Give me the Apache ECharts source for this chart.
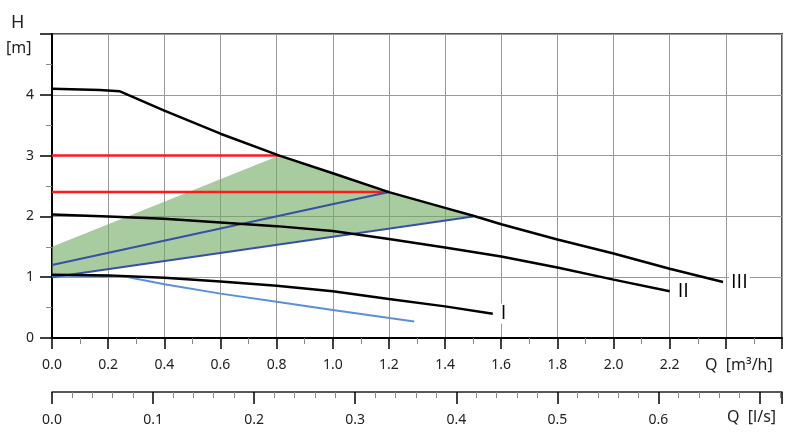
<!DOCTYPE html>
<html>
<head>
<meta charset="utf-8">
<script src="https://cdn.jsdelivr.net/npm/echarts@6/dist/echarts.min.js"></script>
<style>
  html, body { margin: 0; padding: 0; background: #fff; }
  #chart { width: 800px; height: 444px; }
</style>
</head>
<body>
<div id="chart"></div>
<script>
// Pumpenkennlinien, Q in m³/h, H in m
const qIII = [0, 0.17, 0.24, 0.4, 0.6, 0.81, 1.0, 1.2, 1.4, 1.5, 1.6, 1.8, 2.0, 2.2, 2.39];
const hIII = [4.10, 4.08, 4.06, 3.74, 3.36, 3.0, 2.71, 2.40, 2.14, 2.01, 1.87, 1.62, 1.39, 1.14, 0.92];

const qII = [0, 0.2, 0.4, 0.6, 0.8, 1.0, 1.2, 1.4, 1.6, 1.8, 2.0, 2.2];
const hII = [2.03, 2.0, 1.96, 1.90, 1.84, 1.76, 1.63, 1.49, 1.34, 1.16, 0.96, 0.77];

const qI = [0, 0.2, 0.4, 0.6, 0.8, 1.0, 1.2, 1.4, 1.57];
const hI = [1.04, 1.03, 0.99, 0.93, 0.86, 0.77, 0.64, 0.52, 0.40];

const qLow = [0, 0.25, 0.4, 0.6, 0.8, 1.0, 1.29];
const hLow = [1.03, 1.02, 0.885, 0.73, 0.595, 0.46, 0.27];

// Regelkennlinien (blau) und konstante Förderhöhen (rot)
const blueA = [[0, 1.2], [1.2, 2.4]];
const blueB = [[0, 1.0], [1.5, 2.0]];
const red3 = [[0, 3.0], [0.81, 3.0]];
const red24 = [[0, 2.4], [1.2, 2.4]];

// grüner Bereich
const greenQ = [0, 0, 0.81, 1.0, 1.2, 1.4, 1.5];
const greenH = [1.0, 1.5, 3.0, 2.71, 2.40, 2.14, 2.01];

const font = "Noto Sans";

function pairs(q, h) {
  return q.map((v, i) => [v, h[i]]);
}

function curve(q, h, label, color, width) {
  const data = pairs(q, h);
  if (label) {
    // Beschriftung am letzten Punkt
    const last = data.length - 1;
    data[last] = {
      value: data[last],
      label: {
        show: true,
        position: "right",
        distance: 6,
        formatter: label,
        fontFamily: "Open Sans",
        fontSize: 20,
        color: "#000",
        backgroundColor: "#fff",
        padding: [0, 2],
      },
    };
  }
  return {
    type: "line",
    data: data,
    symbol: "circle",
    symbolSize: 0,
    showSymbol: true,
    lineStyle: { color: color, width: width },
    itemStyle: { color: color },
    z: 5,
  };
}

function straight(data, color, width) {
  return {
    type: "line",
    data: data,
    symbol: "none",
    lineStyle: { color: color, width: width },
    z: 3,
  };
}

const myChart = echarts.init(document.querySelector("#chart"));

const option = {
  animation: false,
  textStyle: { fontFamily: font },
  grid: {
    left: 52,
    right: 18,
    top: 34,
    bottom: 106,
    show: true,
    borderColor: "#555",
    borderWidth: 2,
  },
  xAxis: [
    {
      type: "value",
      min: 0,
      max: 2.6,
      interval: 0.2,
      axisLine: { lineStyle: { color: "#000", width: 2 } },
      axisTick: { length: 11, lineStyle: { color: "#000", width: 1.5 } },
      minorTick: { show: true, splitNumber: 2, length: 6, lineStyle: { color: "#888" } },
      splitLine: { show: true, lineStyle: { color: "#999", width: 1 } },
      axisLabel: {
        margin: 20,
        fontFamily: font,
        fontSize: 14,
        color: "#222",
        formatter: (v) => (v > 2.3 ? "" : v.toFixed(1)),
      },
    },
    {
      type: "value",
      position: "bottom",
      offset: 54,
      min: 0,
      max: 2.6 / 3.6,
      interval: 0.1,
      axisLine: { show: true, lineStyle: { color: "#222", width: 1.5 } },
      axisTick: { length: 12, lineStyle: { color: "#000", width: 1.5 } },
      minorTick: { show: true, splitNumber: 5, length: 6, lineStyle: { color: "#888" } },
      splitLine: { show: false },
      axisLabel: {
        margin: 21,
        fontFamily: font,
        fontSize: 14,
        color: "#222",
        showMaxLabel: false,
        formatter: (v) => (v > 0.65 ? "" : v.toFixed(1)),
      },
    },
  ],
  yAxis: {
    type: "value",
    min: 0,
    max: 5,
    interval: 1,
    axisLine: { show: true, lineStyle: { color: "#000", width: 2 } },
    axisTick: { length: 12, lineStyle: { color: "#000", width: 1.5 } },
    minorTick: { show: true, splitNumber: 2, length: 6, lineStyle: { color: "#888" } },
    splitLine: { show: true, lineStyle: { color: "#999", width: 1 } },
    axisLabel: {
      margin: 18,
      fontFamily: font,
      fontSize: 14,
      color: "#222",
      formatter: (v) => (v > 4.5 ? "" : String(v)),
    },
  },
  graphic: [
    { type: "text", left: 11, top: 14, style: { text: "H", font: "18px Noto Sans", fill: "#222" } },
    { type: "text", left: 6, top: 40, style: { text: "[m]", font: "16px Noto Sans", fill: "#222" } },
    { type: "text", left: 705, top: 357, style: { text: "Q  [m³/h]", font: "16px Noto Sans", fill: "#222" } },
    { type: "text", left: 727, top: 409, style: { text: "Q  [l/s]", font: "16px Noto Sans", fill: "#222" } },
  ],
  series: [
    {
      type: "custom",
      silent: true,
      z: 1,
      data: pairs(greenQ, greenH),
      renderItem: (params, api) => {
        if (params.dataIndex > 0) return;
        const pts = greenQ.map((q, i) => api.coord([q, greenH[i]]));
        return {
          type: "polygon",
          shape: { points: pts },
          style: { fill: "rgba(112,168,97,0.6)" },
        };
      },
    },
    straight(red3, "#ff1a1a", 2.5),
    straight(red24, "#ff1a1a", 2.5),
    straight(blueA, "#3550a5", 2),
    straight(blueB, "#3550a5", 2),
    curve(qLow, hLow, null, "#5b8fd8", 2),
    curve(qI, hI, "I", "#000", 2.5),
    curve(qII, hII, "II", "#000", 2.5),
    curve(qIII, hIII, "III", "#000", 2.5),
  ],
};

myChart.setOption(option);
window.addEventListener("resize", () => {
  myChart.resize();
});
</script>
</body>
</html>
